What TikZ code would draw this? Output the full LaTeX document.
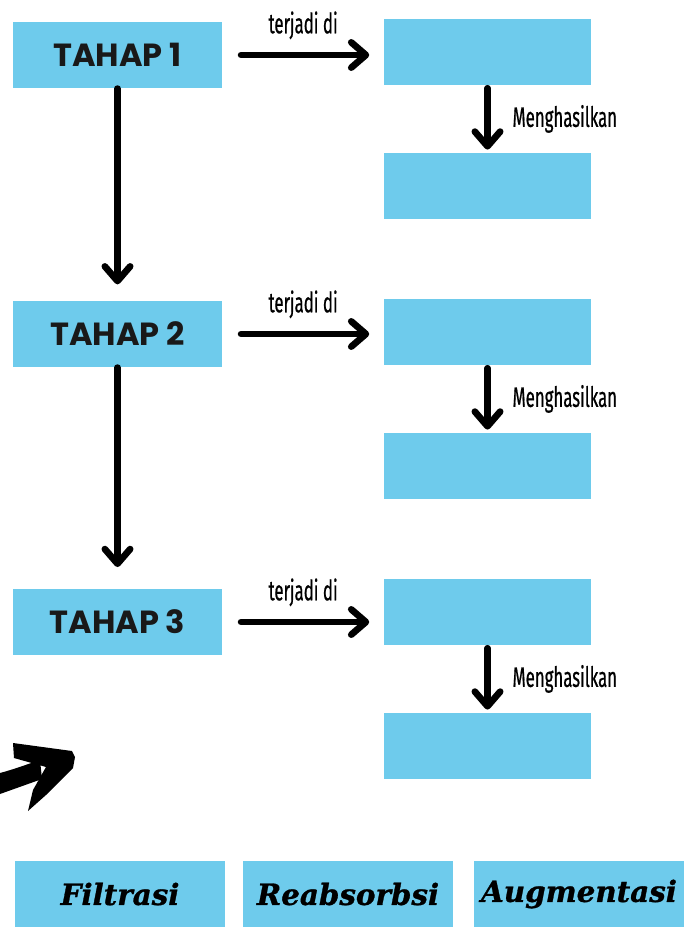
\documentclass[tikz,border=0pt]{standalone}
\usepackage{fontspec}
\usetikzlibrary{arrows.meta,positioning}
\newfontfamily\tahapfont{Poppins}
\newfontfamily\slabfont{DejaVu Serif}[FakeBold=1]
\newfontfamily\condfont{Fira Sans}[FakeStretch=0.6,FakeBold=0.6]
\definecolor{boxblue}{RGB}{110,203,236}
\begin{document}
\begin{tikzpicture}[x=0.75pt,y=-0.75pt,
    stagebox/.style={fill=boxblue, minimum width=157pt, minimum height=50pt, inner sep=0pt,
      font=\tahapfont\bfseries\fontsize{24}{28}\selectfont, text=black!90},
    placebox/.style={fill=boxblue, minimum width=155pt, minimum height=50pt, inner sep=0pt},
    termbox/.style={fill=boxblue, minimum width=157pt, minimum height=50pt, inner sep=0pt,
      font=\slabfont\bfseries\itshape\fontsize{22}{26}\selectfont},
    arr/.style={line width=5pt, line cap=round, -{Straight Barb[length=11pt,width=19pt,round]}},
    note/.style={font=\condfont\fontsize{21}{23}\selectfont}]
    \useasboundingbox[fill=white] (0,0) rectangle (691,934);
    % tahap, tempat dan hasil
    \foreach \i/\y/\ry in {1/55/52,2/334/332,3/622/612}
    {
    \node[stagebox] (t\i) at (117.5,\y) {TAHAP \i};
    \node[placebox] (r\i) at (487.5,\ry) {};
    \node[placebox, below=50pt of r\i] (s\i) {};
    \draw[arr, shorten <=14pt, shorten >=11pt] (t\i.east) -- (t\i.east -| r\i.west)
      node[note, midway, above=6pt] {terjadi di};
    \draw[arr, shorten <=2pt, shorten >=2pt] (r\i.south) -- (s\i.north)
      node[note, midway, right=13pt] {Menghasilkan};
    }
    \draw[arr, shorten >=12pt] (t1.south) -- (t2.north);
    \draw[arr, shorten >=16pt] (t2.south) -- (t3.north);
    % panah kuas
    \fill (0,773) .. controls (15,769) and (28,764) .. (40,760) -- (42,779)
      .. controls (28,784) and (14,789) .. (0,794) -- cycle;
    \fill (13,743) -- (72,751) -- (75,757) -- (73,768) -- (46,795) -- (28,811)
      -- (33,790) -- (46,767) -- (14,758) -- cycle;
    % istilah
    \node[termbox] (f) at (120,894) {Filtrasi};
    \node[termbox] (ra) at (348,894) {Reabsorbsi};
    \node[termbox] (au) at (579,894) {Augmentasi};
\end{tikzpicture}
\end{document}
